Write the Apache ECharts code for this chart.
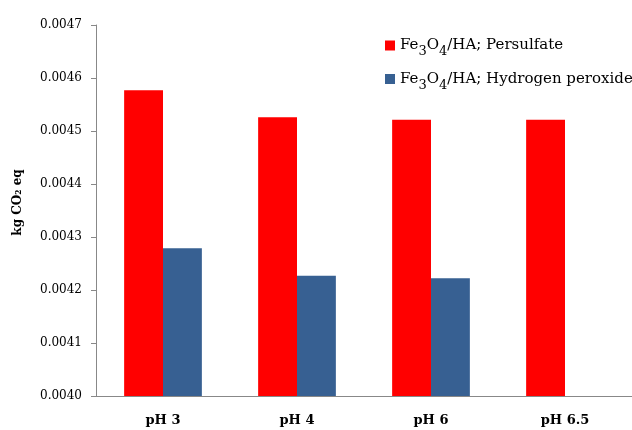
<!DOCTYPE html>
<html lang="en">
<head>
    <meta charset="UTF-8">
    <title>kg CO2 eq</title>
    <script src="https://cdn.jsdelivr.net/npm/echarts@6/dist/echarts.min.js"></script>
    <style>
        html, body { margin: 0; padding: 0; background: #fff; }
        #chart { width: 632px; height: 430px; }
    </style>
</head>
<body>
<div id="chart"></div>
<script>
    // data
    var categories = ['pH 3', 'pH 4', 'pH 6', 'pH 6.5'];
    var persulfate = [0.004577, 0.004526, 0.004521, 0.004521];
    var peroxide = [0.004279, 0.004227, 0.004222, null];
    var seriesNames = ['Fe3O4/HA; Persulfate', 'Fe3O4/HA; Hydrogen peroxide'];

    var font = 'DejaVu Serif';

    var myChart = echarts.init(document.getElementById('chart'));
    var option = {
        backgroundColor: '#fff',
        animation: false,
        color: ['#ff0000', '#376092'],
        grid: { left: 96, right: 0, top: 25, bottom: 34 },
        legend: {
            orient: 'vertical',
            left: 380,
            top: 33,
            itemGap: 13,
            itemWidth: 10,
            itemHeight: 10,
            icon: 'rect',
            data: seriesNames,
            formatter: function (name) {
                var rest = name.replace('Fe3O4', '');
                return '{n|Fe}{s|3}{n|O}{s|4}{n|' + rest + '}';
            },
            textStyle: {
                fontFamily: font,
                color: '#000',
                rich: {
                    n: { fontFamily: font, fontSize: 15, color: '#000', lineHeight: 26, verticalAlign: 'middle' },
                    s: { fontFamily: font, fontSize: 13, color: '#000', lineHeight: 13, verticalAlign: 'bottom' }
                }
            }
        },
        xAxis: {
            type: 'category',
            data: categories,
            axisLine: { lineStyle: { color: '#888' } },
            axisTick: { show: false },
            axisLabel: { fontFamily: font, fontWeight: 'bold', fontSize: 13, color: '#000', margin: 18 }
        },
        yAxis: {
            type: 'value',
            min: 0.0040,
            max: 0.0047,
            interval: 0.0001,
            name: 'kg CO₂ eq',
            nameLocation: 'middle',
            nameRotate: 90,
            nameGap: 72,
            nameTextStyle: { fontFamily: font, fontWeight: 'bold', fontSize: 12, color: '#000', padding: [0, 0, 0, 16] },
            splitLine: { show: false },
            axisLine: { show: true, lineStyle: { color: '#888' } },
            axisTick: { show: true, inside: false, length: 5, lineStyle: { color: '#888' } },
            axisLabel: {
                fontFamily: font, fontSize: 12, color: '#000', margin: 14,
                formatter: function (v) { return v.toFixed(4); }
            }
        },
        series: [
            {
                name: seriesNames[0],
                type: 'bar',
                barGap: '0%',
                barCategoryGap: '42%',
                data: persulfate
            },
            {
                name: seriesNames[1],
                type: 'bar',
                barGap: '0%',
                barCategoryGap: '42%',
                data: peroxide
            }
        ]
    };
    myChart.setOption(option);
</script>
</body>
</html>
